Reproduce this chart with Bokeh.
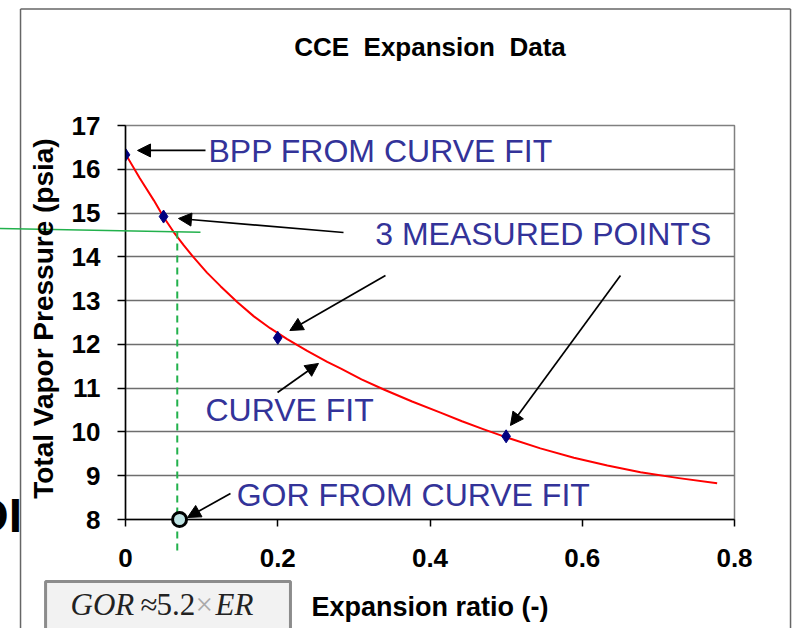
import math
from bokeh.plotting import figure
from bokeh.models import Arrow, NormalHead, FixedTicker, Range1d
from bokeh.core.properties import value
from bokeh.embed import file_html
from bokeh.resources import INLINE

# ---------------- data ----------------
meas_x = [0.0, 0.05, 0.2, 0.5]
meas_y = [16.33, 14.92, 12.15, 9.9]

fit_x = [0.0, 0.0186, 0.0372, 0.050, 0.0635, 0.0766, 0.0898, 0.107, 0.1248, 0.1467,
         0.1686, 0.19, 0.2124, 0.2387, 0.265, 0.2824, 0.31, 0.3393, 0.3765, 0.4138,
         0.442, 0.4707, 0.5014, 0.545, 0.589, 0.633, 0.6765, 0.727, 0.7772]
fit_y = [16.35, 15.80, 15.29, 14.91, 14.56, 14.26, 13.98, 13.64, 13.33, 12.97,
         12.64, 12.37, 12.12, 11.85, 11.60, 11.45, 11.20, 10.97, 10.695, 10.44,
         10.245, 10.06, 9.87, 9.625, 9.41, 9.235, 9.08, 8.945, 8.83]

gor_x = [0.071]
gor_y = [8.0]

x_ticks = [0, 0.2, 0.4, 0.6, 0.8]
x_tick_labels = ["0", "0.2", "0.4", "0.6", "0.8"]
y_ticks = [8, 9, 10, 11, 12, 13, 14, 15, 16, 17]

# green guide lines (bubble-point pressure / expansion ratio)
green_h_x = [-0.17, 0.0985]
green_h_y = [14.65, 14.56]
green_v_x = [0.068, 0.068]
green_v_y = [14.58, 7.18]

# annotation texts
note_text = ["BPP FROM CURVE FIT", "3 MEASURED POINTS", "CURVE FIT", "GOR FROM CURVE FIT"]
note_x = [0.109, 0.328, 0.105, 0.146]
note_y = [16.41, 14.53, 10.51, 8.55]

# arrows: start -> end (head at end)
arr_x0 = [0.1051, 0.2864, 0.3415, 0.6502, 0.1997, 0.1379]
arr_y0 = [16.43, 14.556, 13.574, 13.574, 10.90, 8.594]
arr_x1 = [0.0158, 0.0696, 0.2159, 0.5057, 0.2535, 0.0814]
arr_y1 = [16.43, 14.876, 12.317, 10.148, 11.564, 8.046]

title_text = "CCE\u00a0\u00a0Expansion\u00a0\u00a0Data"
xlabel_text = "Expansion ratio (-)"
ylabel_text = "Total Vapor Pressure (psia)"

BLUE = "#333399"
FONT = "Liberation Sans"
SERIF = "Liberation Serif"

p = figure(width=800, height=628, output_backend="svg", toolbar_location=None,
           x_range=Range1d(0, 0.8), y_range=Range1d(8, 17),
           min_border_left=125, min_border_right=66,
           min_border_top=125, min_border_bottom=109)
p.background_fill_color = "white"
p.border_fill_color = "white"
p.outline_line_color = "#808080"
p.outline_line_width = 1.5

p.xgrid.visible = False
p.ygrid.grid_line_color = "#6e6e6e"
p.ygrid.grid_line_width = 1.5
p.yaxis.ticker = FixedTicker(ticks=y_ticks)
p.xaxis.ticker = FixedTicker(ticks=x_ticks)
p.xaxis.major_label_overrides = dict(zip(x_ticks, x_tick_labels))

for ax in (p.xaxis, p.yaxis):
    ax.axis_line_color = "black"
    ax.axis_line_width = 1.5
    ax.major_tick_line_color = "black"
    ax.major_tick_line_width = 1.5
    ax.major_tick_in = 0
    ax.minor_tick_line_color = None
    ax.major_label_text_font = FONT
    ax.major_label_text_font_size = "26px"
    ax.major_label_text_font_style = "bold"
    ax.major_label_text_color = "black"
p.yaxis.major_tick_out = 8
p.xaxis.major_tick_out = 7
p.yaxis.major_label_standoff = 17
p.xaxis.major_label_standoff = 22

# outer slide frame
p.segment(x0=[-0.1379, -0.1379, 0.8736], y0=[5.0, 19.66, 19.66],
          x1=[-0.1379, 0.8736, 0.8736], y1=[19.66, 19.66, 5.0],
          line_color="#666666", line_width=1.5, level="overlay")

# curve fit and measured points
p.line(fit_x, fit_y, line_color="red", line_width=2, line_join="round")
p.scatter(meas_x, meas_y, marker="diamond", size=13, color="#000080")

# green guides
p.segment(x0=[green_h_x[0]], y0=[green_h_y[0]], x1=[green_h_x[1]], y1=[green_h_y[1]],
          line_color="#22b14c", line_width=1.6, level="overlay")
p.segment(x0=[green_v_x[0]], y0=[green_v_y[0]], x1=[green_v_x[1]], y1=[green_v_y[1]],
          line_color="#22b14c", line_width=2, line_dash="7 5", level="overlay")

p.scatter(gor_x, gor_y, marker="circle", size=14, fill_color="#bfe3e3",
          line_color="black", line_width=3, level="overlay")

for xs, ys, xe, ye in zip(arr_x0, arr_y0, arr_x1, arr_y1):
    p.add_layout(Arrow(x_start=xs, y_start=ys, x_end=xe, y_end=ye,
                       end=NormalHead(size=13, fill_color="black", line_color="black"),
                       line_color="black", line_width=1.7))

p.text(x=note_x, y=note_y, text=note_text, text_font=value(FONT),
       text_font_size=value("32px"), text_color=BLUE, text_align="left",
       text_baseline="middle", level="overlay")

# title and axis labels
p.text(x=[0.4], y=[18.80], text=[title_text], text_font=value(FONT),
       text_font_size=value("26px"), text_font_style="bold", text_align="center",
       text_baseline="middle", text_color="black", level="overlay")
p.text(x=[0.4], y=[5.99], text=[xlabel_text], text_font=value(FONT),
       text_font_size=value("27px"), text_font_style="bold", text_align="center",
       text_baseline="middle", text_color="black", level="overlay")
p.text(x=[-0.1077], y=[12.59], text=[ylabel_text], text_font=value(FONT),
       text_font_size=value("28px"), text_font_style="bold", text_align="center",
       text_baseline="middle", angle=math.pi / 2, text_color="black", level="overlay")

# cropped slide fragment on the left edge
p.text(x=[-0.136], y=[8.10], text=["DI"], text_font=value(FONT),
       text_font_size=value("48px"), text_font_style="bold", text_align="right",
       text_baseline="middle", text_color="black", level="overlay")

# formula box
p.quad(left=[-0.105], right=[0.2167], top=[6.584], bottom=[5.0],
       fill_color="#f2f2f2", line_color="#8c8c8c", line_width=3, level="overlay")
piece_text = ["GOR", "\u2248", "5.2", "\u00d7", "ER"]
piece_x = [-0.0722, 0.0197, 0.0407, 0.092, 0.1182]
piece_style = ["italic", "normal", "normal", "normal", "italic"]
piece_color = ["#222222", "#222222", "#222222", "#aaaaaa", "#222222"]
for txt, x, style, col in zip(piece_text, piece_x, piece_style, piece_color):
    p.text(x=[x], y=[6.06], text=[txt], text_font=value(SERIF),
           text_font_size=value("31px"), text_font_style=style, text_color=col,
           text_align="left", text_baseline="middle", level="overlay")

open("out.html", "w").write(file_html(p, INLINE))
